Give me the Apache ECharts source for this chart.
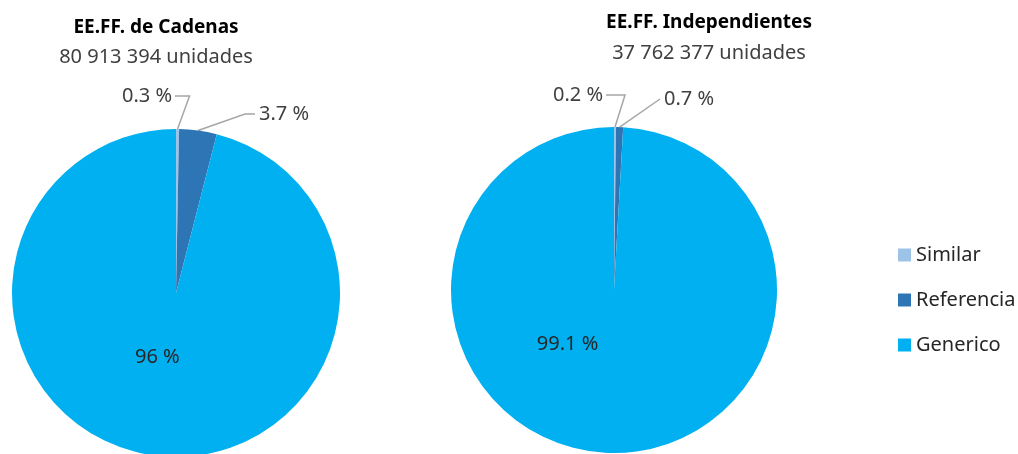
<!DOCTYPE html>
<html>
<head>
<meta charset="utf-8">
<script src="https://cdn.jsdelivr.net/npm/echarts@6/dist/echarts.min.js"></script>
<style>
  html, body { margin: 0; padding: 0; background: #fff; }
  #chart { width: 1018px; height: 454px; }
</style>
</head>
<body>
<div id="chart"></div>
<script>
// Shares by product type, in percent
const categories = ['Similar', 'Referencia', 'Generico'];
const cadenasValues = [0.3, 3.7, 96];
const independientesValues = [0.2, 0.7, 99.1];
const cadenasTitle = 'EE.FF. de Cadenas';
const cadenasSub = '80 913 394 unidades';
const indepTitle = 'EE.FF. Independientes';
const indepSub = '37 762 377 unidades';

const colors = ['#9DC3E6', '#2E75B6', '#00B0F0'];
const FONT = '"Noto Sans", Lato, sans-serif';
const FS = 20;

function fmt(v) { return String(v) + ' %'; }

// Places the two small-slice labels above the pie with elbow guide lines
function makeLayout(spots) {
  return function (params) {
    const s = spots[params.dataIndex];
    if (!s) return {};
    const pts = params.labelLinePoints;
    const anchor = pts ? pts[0] : [s.x, s.y];
    const w = params.labelRect.width;
    const h = params.labelRect.height;
    let lx, elbow, end;
    if (s.side === 'left') {
      lx = s.x - w;
      end = [s.x + 3, s.y + h / 2];
      elbow = [anchor[0] + s.ex, s.y + h / 2];
    } else {
      lx = s.x;
      end = [s.x - 4, s.y + h / 2];
      elbow = [s.x - 4 - s.ex, s.y + h / 2];
    }
    return {
      x: lx, y: s.y, align: 'left', verticalAlign: 'top',
      labelLinePoints: [anchor, elbow, end]
    };
  };
}

function pieSeries(values, center, radius, innerOffset, spots) {
  return {
    type: 'pie',
    center: center,
    radius: radius,
    startAngle: 90,
    clockwise: true,
    silent: true,
    avoidLabelOverlap: false,
    itemStyle: { borderColor: '#fff', borderWidth: 0 },
    labelLine: { show: true, length: 12, length2: 10, lineStyle: { color: '#A6A6A6', width: 1.5 } },
    labelLayout: makeLayout(spots),
    data: categories.map((name, i) => {
      const d = {
        name: name,
        value: values[i],
        itemStyle: { color: colors[i] },
        label: {
          show: true,
          formatter: fmt(values[i]),
          color: '#404040',
          fontSize: FS,
          fontFamily: FONT,
          position: 'outside'
        }
      };
      if (i === 2) {
        d.label.position = 'inner';
        d.label.color = '#262626';
        d.label.offset = innerOffset;
        d.labelLine = { show: false };
      }
      return d;
    })
  };
}

const chart = echarts.init(document.getElementById('chart'), null, { renderer: 'canvas' });
chart.setOption({
  animation: false,
  backgroundColor: '#ffffff',
  color: colors,
  title: [
    {
      text: cadenasTitle, subtext: cadenasSub,
      left: 151, top: 13, textAlign: 'center', itemGap: 10,
      textStyle: { fontFamily: FONT, fontSize: 19, fontWeight: 'bold', color: '#000' },
      subtextStyle: { fontFamily: FONT, fontSize: FS, color: '#404040' }
    },
    {
      text: indepTitle, subtext: indepSub,
      left: 704, top: 8, textAlign: 'center', itemGap: 11,
      textStyle: { fontFamily: FONT, fontSize: 19, fontWeight: 'bold', color: '#000' },
      subtextStyle: { fontFamily: FONT, fontSize: FS, color: '#404040' }
    }
  ],
  legend: {
    orient: 'vertical',
    left: 893, top: 240,
    icon: 'rect', itemWidth: 13, itemHeight: 13, itemGap: 25,
    selectedMode: false,
    textStyle: { fontFamily: FONT, fontSize: FS, color: '#262626', padding: [0, 0, 0, 0] },
    data: categories
  },
  series: [
    pieSeries(cadenasValues, [176, 293], 164, [-8, -20], {
      0: { side: 'left', x: 172, y: 86, ex: 12 },
      1: { side: 'right', x: 259, y: 104, ex: 10 }
    }),
    pieSeries(independientesValues, [614, 290], 163, [-44, -30], {
      0: { side: 'left', x: 603, y: 85, ex: 10 },
      1: { side: 'right', x: 664, y: 89, ex: 0 }
    })
  ]
});
</script>
</body>
</html>
